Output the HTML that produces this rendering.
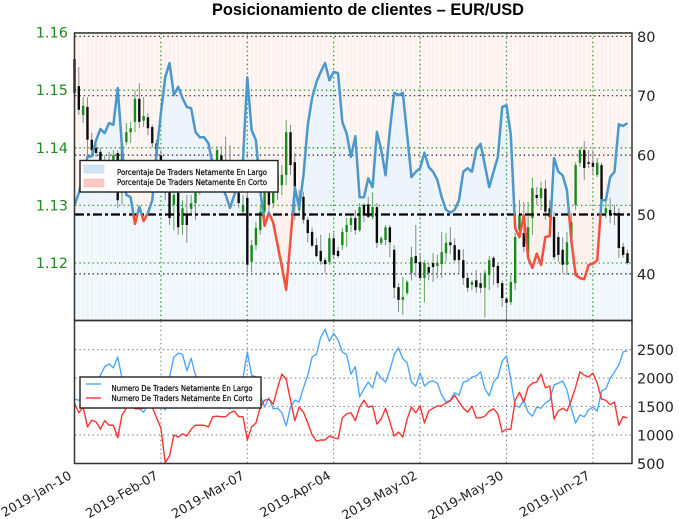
<!DOCTYPE html>
<html lang="es">
<head>
<meta charset="utf-8">
<title>Posicionamiento de clientes – EUR/USD</title>
<style>
html,body{margin:0;padding:0;background:#fff;width:679px;height:519px;overflow:hidden}
svg{display:block;filter:blur(0.35px)}
text{font-family:"DejaVu Sans","Liberation Sans",sans-serif}
</style>
</head>
<body>
<svg id="chart" xmlns="http://www.w3.org/2000/svg" width="679" height="519" viewBox="0 0 679 519">
  <text x="212" y="15" textLength="312" lengthAdjust="spacingAndGlyphs" style="font-family:'Liberation Sans',sans-serif;font-weight:bold;font-size:16.5px" fill="#000">Posicionamiento de clientes – EUR/USD</text>
  <defs>
    <clipPath id="clip-above"><rect x="75" y="33" width="557" height="181.5"/></clipPath>
    <clipPath id="clip-below"><rect x="75" y="214.5" width="557" height="106"/></clipPath>
  </defs>
  <g id="stripes"></g>
  <g id="sentiment-fill"></g>
  <g id="grid-top"></g>
  <g id="candles"></g>
  <g id="sentiment"></g>
  <g id="grid-bottom"></g>
  <g id="counts"></g>
  <g id="axes"></g>

  <g>
    <rect x="80" y="160.5" width="198" height="31.5" fill="#fff" stroke="#222" stroke-width="1.4"/>
    <rect x="84" y="165" width="20" height="8" fill="#cfe4f7" stroke="#b9d8f3" stroke-width=".6"/>
    <rect x="84" y="179" width="20" height="8" fill="#fcc9c4" stroke="#f9b9b3" stroke-width=".6"/>
    <text x="117" y="175" textLength="150" lengthAdjust="spacingAndGlyphs" font-size="7.5" stroke="#111" stroke-width=".25" fill="#111">Porcentaje De Traders Netamente En Largo</text>
    <text x="117" y="185" textLength="150" lengthAdjust="spacingAndGlyphs" font-size="7.5" stroke="#111" stroke-width=".25" fill="#111">Porcentaje De Traders Netamente En Corto</text>
  </g>
  <g>
    <rect x="80" y="377" width="181" height="31" fill="#fff" stroke="#222" stroke-width="1.4"/>
    <line x1="86" x2="101" y1="384" y2="384" stroke="#4da6ff" stroke-width="1.4"/>
    <line x1="86" x2="101" y1="398" y2="398" stroke="#ff3333" stroke-width="1.4"/>
    <text x="111.5" y="391" textLength="141" lengthAdjust="spacingAndGlyphs" font-size="7.5" stroke="#111" stroke-width=".25" fill="#111">Numero De Traders Netamente En Largo</text>
    <text x="111.5" y="401" textLength="141" lengthAdjust="spacingAndGlyphs" font-size="7.5" stroke="#111" stroke-width=".25" fill="#111">Numero De Traders Netamente En Corto</text>
  </g>
</svg>
<script>
const priceTicks = ["1.16","1.15","1.14","1.13","1.12"];
const percentTicks = ["80","70","60","40"];
const countTicks = ["2500","2000","1500","1000","500"];
const dateLabels = ["2019-Jan-10","2019-Feb-07","2019-Mar-07","2019-Apr-04","2019-May-02","2019-May-30","2019-Jun-27"];
const dateIndexes = [0,20,40,60,80,100,120];

const sentiment = [
51.6,53.6,56.6,59.7,59.8,62.5,64.4,63.7,65.4,65.1,
71.3,61.4,53.3,52.9,48.4,51.3,48.9,50.3,52.4,60.4,
67.1,73.1,75.5,70.1,71.5,69.6,68.1,67.9,63.9,63,
63,62,58.3,56.6,55,53.3,51.1,53.3,55.8,59.2,
73.1,64.2,62.5,54.1,48.1,50.3,48.6,44.9,41.2,37.3,
45.7,54.6,51.1,56.6,65.1,69.6,72.3,74,75.5,72.6,
74,73.8,65.6,63.6,59.7,63.2,52.9,52.9,56.1,54.6,
63.9,60.9,56.6,64.2,70.5,70.1,70.5,63.4,56.3,57.2,
57.8,60.4,58,57.2,55.8,52.9,50.8,50.3,50.8,52.4,
57.2,57.8,57.2,60.9,61.9,58.3,54.6,57.2,59.7,68.1,
68.4,63.4,47.7,46.2,49.9,42.7,41,43.4,41.5,46.2,
46.4,59.5,57.2,56.6,54.1,45.7,39.8,39.3,39.1,41.5,
41.7,42.3,52.4,52.4,56.3,57.2,65.2,64.9,65.4];

const longCount = [
1630,1610,1650,1760,1760,1830,2050,2200,2250,2180,
2370,2000,1790,1610,1460,1460,1400,1530,1610,1700,
1610,1440,2020,2370,2440,2420,2130,2350,2050,1970,
1880,1830,1740,1700,1610,1530,1460,1610,1880,2000,
2460,2050,2020,1700,1490,1650,1460,1470,1390,1160,
1490,1610,1580,1830,2050,2370,2420,2720,2860,2650,
2790,2670,2460,2410,2070,2200,1670,1810,1930,1830,
2110,2000,1930,2140,2410,2530,2340,2270,1930,1860,
2090,1860,1930,1950,1910,1700,1580,1610,1740,1700,
1930,1950,2020,2040,2110,1810,1690,1930,2020,2300,
2390,1970,1510,1490,1610,1400,1330,1490,1470,1560,
1610,1880,1910,1950,1790,1470,1210,1350,1320,1440,
1490,1420,1770,1810,2000,2110,2230,2460,2480];

const shortCount = [
1560,1390,1490,1140,1260,1230,1100,1250,1170,1170,
950,1350,1470,1610,1460,1460,1470,1560,1490,1300,
1120,510,630,1000,960,1020,980,1100,1170,1170,
1170,1140,1320,1330,1320,1320,1390,1420,1320,1320,
910,1140,1210,1490,1610,1630,1540,1830,2070,1980,
1610,1250,1490,1400,1210,1000,890,910,910,980,
950,930,1300,1370,1390,1250,1490,1610,1490,1510,
1190,1280,1470,1230,980,1050,960,1280,1490,1390,
1510,1210,1420,1470,1510,1510,1560,1600,1700,1580,
1470,1400,1510,1300,1300,1330,1420,1460,1370,1050,
1100,1100,1610,1750,1580,1840,1910,1930,2070,1830,
1860,1280,1420,1470,1420,1610,1840,2110,2050,2020,
2090,1910,1630,1610,1530,1580,1170,1320,1300];

const highs = [
1.1554,1.1540,1.1488,1.1488,1.1426,1.1408,1.1400,1.1387,1.1393,1.1396,
1.1396,1.1417,1.1443,1.1445,1.1500,1.1512,1.1488,1.1460,1.1440,1.1414,
1.1396,1.1370,1.1335,1.1327,1.1330,1.1309,1.1318,1.1318,1.1335,1.1358,
1.1370,1.1365,1.1382,1.1403,1.1403,1.1419,1.1405,1.1361,1.1330,1.1318,
1.1323,1.1240,1.1271,1.1301,1.1330,1.1341,1.1330,1.1365,1.1370,1.1448,
1.1440,1.1391,1.1327,1.1323,1.1280,1.1261,1.1243,1.1249,1.1209,1.1252,
1.1252,1.1228,1.1261,1.1278,1.1283,1.1292,1.1304,1.1304,1.1315,1.1323,
1.1304,1.1247,1.1266,1.1266,1.1231,1.1165,1.1176,1.1170,1.1228,1.1266,
1.1217,1.1205,1.1200,1.1217,1.1214,1.1254,1.1252,1.1262,1.1243,1.1224,
1.1224,1.1183,1.1170,1.1188,1.1183,1.1188,1.1212,1.1212,1.1200,1.1170,
1.1139,1.1179,1.1252,1.1309,1.1306,1.1306,1.1348,1.1332,1.1341,1.1344,
1.1309,1.1289,1.1254,1.1245,1.1254,1.1287,1.1375,1.1401,1.1412,1.1396,
1.1396,1.1382,1.1374,1.1313,1.1313,1.1301,1.1295,1.1235,1.1223];

const lows = [
1.1466,1.1457,1.1443,1.1384,1.1384,1.1384,1.1361,1.1344,1.1353,1.1344,
1.1295,1.1301,1.1405,1.1408,1.1427,1.1434,1.1436,1.1422,1.1400,1.1370,
1.1344,1.1309,1.1266,1.1257,1.1249,1.1249,1.1235,1.1283,1.1275,1.1318,
1.1330,1.1323,1.1344,1.1361,1.1358,1.1344,1.1335,1.1316,1.1295,1.1283,
1.1184,1.1184,1.1223,1.1249,1.1275,1.1283,1.1295,1.1309,1.1318,1.1335,
1.1353,1.1275,1.1287,1.1269,1.1236,1.1228,1.1210,1.1197,1.1183,1.1197,
1.1209,1.1209,1.1223,1.1228,1.1254,1.1249,1.1254,1.1271,1.1278,1.1275,
1.1226,1.1231,1.1231,1.1210,1.1139,1.1115,1.1110,1.1144,1.1170,1.1176,
1.1170,1.1132,1.1170,1.1167,1.1174,1.1174,1.1202,1.1216,1.1202,1.1183,
1.1162,1.1150,1.1153,1.1148,1.1148,1.1106,1.1153,1.1162,1.1157,1.1124,
1.1101,1.1127,1.1153,1.1249,1.1219,1.1205,1.1249,1.1301,1.1292,1.1275,
1.1266,1.1205,1.1202,1.1183,1.1179,1.1229,1.1292,1.1367,1.1344,1.1365,
1.1353,1.1349,1.1301,1.1278,1.1269,1.1266,1.1209,1.1209,1.1197];

const opens = [
1.1554,1.1507,1.1457,1.1471,1.1414,1.1400,1.1393,1.1361,1.1379,1.1361,
1.1391,1.1322,1.1410,1.1427,1.1445,1.1485,1.1447,1.1453,1.1436,1.1408,
1.1387,1.1361,1.1323,1.1301,1.1322,1.1266,1.1283,1.1294,1.1304,1.1327,
1.1358,1.1339,1.1370,1.1379,1.1387,1.1379,1.1370,1.1348,1.1322,1.1289,
1.1313,1.1202,1.1231,1.1257,1.1289,1.1323,1.1304,1.1322,1.1335,1.1353,
1.1427,1.1375,1.1292,1.1315,1.1275,1.1254,1.1231,1.1221,1.1205,1.1202,
1.1243,1.1221,1.1231,1.1254,1.1266,1.1278,1.1257,1.1301,1.1302,1.1280,
1.1297,1.1235,1.1240,1.1262,1.1223,1.1158,1.1136,1.1148,1.1183,1.1212,
1.1202,1.1174,1.1193,1.1200,1.1195,1.1198,1.1217,1.1236,1.1231,1.1223,
1.1205,1.1174,1.1162,1.1170,1.1165,1.1157,1.1179,1.1209,1.1195,1.1165,
1.1138,1.1132,1.1165,1.1257,1.1252,1.1217,1.1278,1.1318,1.1313,1.1329,
1.1295,1.1280,1.1245,1.1223,1.1197,1.1235,1.1301,1.1374,1.1396,1.1375,
1.1374,1.1353,1.1370,1.1287,1.1292,1.1287,1.1287,1.1228,1.1217];

const closes = [
1.1495,1.1466,1.1473,1.1414,1.1396,1.1391,1.1374,1.1374,1.1361,1.1387,
1.1309,1.1408,1.1427,1.1434,1.1485,1.1445,1.1455,1.1434,1.1408,1.1387,
1.1361,1.1322,1.1278,1.1318,1.1262,1.1295,1.1266,1.1304,1.1322,1.1348,
1.1344,1.1353,1.1358,1.1396,1.1370,1.1358,1.1348,1.1327,1.1304,1.1301,
1.1197,1.1231,1.1261,1.1289,1.1322,1.1301,1.1322,1.1356,1.1353,1.1427,
1.1370,1.1315,1.1313,1.1275,1.1252,1.1230,1.1212,1.1203,1.1198,1.1243,
1.1214,1.1212,1.1254,1.1266,1.1278,1.1257,1.1297,1.1283,1.1280,1.1297,
1.1235,1.1243,1.1262,1.1236,1.1157,1.1136,1.1141,1.1167,1.1210,1.1200,
1.1174,1.1200,1.1183,1.1193,1.1200,1.1219,1.1235,1.1231,1.1205,1.1205,
1.1174,1.1157,1.1167,1.1158,1.1157,1.1183,1.1205,1.1193,1.1165,1.1139,
1.1131,1.1167,1.1245,1.1283,1.1228,1.1262,1.1330,1.1313,1.1330,1.1289,
1.1280,1.1210,1.1214,1.1197,1.1236,1.1271,1.1370,1.1396,1.1365,1.1372,
1.1367,1.1374,1.1309,1.1295,1.1285,1.1283,1.1226,1.1214,1.1200];

const NS = 'http://www.w3.org/2000/svg';
const xAt = i => 74.5 + 4.32 * i;
const yPrice = p => 263 - (p - 1.12) * 5760;
const yPercent = v => 214.5 - (v - 50) * 5.94;
const yCount = c => 406.5 - (c - 1500) * 0.0568;

function make(parent, tag, attrs) {
  const el = document.createElementNS(NS, tag);
  for (const k in attrs) el.setAttribute(k, attrs[k]);
  parent.appendChild(el);
  return el;
}
const byId = id => document.getElementById(id);
const linePath = (vals, yFn) => vals.map((v, i) => (i ? 'L' : 'M') + xAt(i).toFixed(2) + ' ' + yFn(v).toFixed(2)).join('');

/* background stripes */
const stripes = byId('stripes');
const baseTop = make(stripes, 'rect', {x:75, y:33, width:557, height:181.5, fill:'#fff8f6'});


const baseBottom = make(stripes, 'rect', {x:75, y:214.5, width:557, height:106, fill:'#f6fafd'});


sentiment.forEach((v, i) => {
  const a = make(stripes, 'rect', {x:xAt(i) - 1.2, y:33, width:2.4, height:181.5, fill:'#fef0ed'});
  
  
  const b = make(stripes, 'rect', {x:xAt(i) - 1.2, y:214.5, width:2.4, height:106, fill:'#eef5fb'});
  
  
});

/* sentiment fill */
const sentFill = byId('sentiment-fill');
const linePathD = linePath(sentiment, yPercent);
const areaD = linePathD + 'L' + xAt(sentiment.length - 1) + ' ' + yPercent(50) + 'L' + xAt(0) + ' ' + yPercent(50) + 'Z';
const fillLong = make(sentFill, 'path', {d:areaD, fill:'#eaf3fb', 'fill-opacity':.85, 'clip-path':'url(#clip-above)'});


const fillShort = make(sentFill, 'path', {d:areaD, fill:'#fdeeeb', 'fill-opacity':.85, 'clip-path':'url(#clip-below)'});



/* top grid */
const gridTop = byId('grid-top');
priceTicks.forEach(t => {
  const l = make(gridTop, 'line', {x1:75, x2:632, y1:yPrice(+t), y2:yPrice(+t), stroke:'#2e9e2e', 'stroke-width':1.3, 'stroke-dasharray':'1.4 3'});
  
  
});
percentTicks.forEach(t => {
  const l = make(gridTop, 'line', {x1:75, x2:632, y1:yPercent(+t), y2:yPercent(+t), stroke:'#222', 'stroke-width':1.2, 'stroke-dasharray':'1.4 3'});
  
  
});
dateIndexes.slice(1).forEach(i => {
  const l = make(gridTop, 'line', {x1:xAt(i), x2:xAt(i), y1:33, y2:320, stroke:'#2e9e2e', 'stroke-width':1.3, 'stroke-dasharray':'1.4 3'});
  
  
});

/* candlesticks */
const candles = byId('candles');
opens.forEach((o, i) => {
  const c = closes[i];
  const up = c >= o;
  const wick = make(candles, 'line', {x1:xAt(i), x2:xAt(i), y1:yPrice(highs[i]), y2:yPrice(lows[i]), stroke:up ? '#5fa85f' : '#8a8a8a', 'stroke-width':1});
  
  
  const top = Math.min(yPrice(o), yPrice(c));
  const h = Math.max(Math.abs(yPrice(o) - yPrice(c)), 1);
  const body = make(candles, 'rect', {x:xAt(i) - 1.2, y:top, width:2.4, height:h, fill:up ? '#178a17' : '#0c0c0c'});
  
  
});

/* sentiment line */
const sent = byId('sentiment');
const midLine = make(sent, 'line', {x1:75, x2:632, y1:yPercent(50), y2:yPercent(50), stroke:'#000', 'stroke-width':2.2, 'stroke-dasharray':'9 3 3 3'});


const lineLong = make(sent, 'path', {d:linePathD, fill:'none', stroke:'#4a98cc', 'stroke-width':2.5, 'stroke-linejoin':'round', 'clip-path':'url(#clip-above)'});


const lineShort = make(sent, 'path', {d:linePathD, fill:'none', stroke:'#f4503c', 'stroke-width':2.5, 'stroke-linejoin':'round', 'clip-path':'url(#clip-below)'});



/* bottom grid */
const gridBottom = byId('grid-bottom');
countTicks.slice(0, 4).forEach(t => {
  const l = make(gridBottom, 'line', {x1:75, x2:632, y1:yCount(+t), y2:yCount(+t), stroke:'#808080', 'stroke-width':1.1, 'stroke-dasharray':'1.4 3'});
  
  
});
dateIndexes.slice(1).forEach(i => {
  const l = make(gridBottom, 'line', {x1:xAt(i), x2:xAt(i), y1:321, y2:463, stroke:'#808080', 'stroke-width':1.1, 'stroke-dasharray':'1.4 3'});
  
  
});

/* count lines */
const counts = byId('counts');
const cl = make(counts, 'path', {d:linePath(longCount, yCount), fill:'none', stroke:'#4da6ff', 'stroke-width':1.4, 'stroke-linejoin':'round'});


const cs = make(counts, 'path', {d:linePath(shortCount, yCount), fill:'none', stroke:'#ff3333', 'stroke-width':1.4, 'stroke-linejoin':'round'});



/* axes */
const axes = byId('axes');
const frameTop = make(axes, 'rect', {x:74.5, y:33, width:557.5, height:287.5, fill:'none', stroke:'#333', 'stroke-width':1.5});


const frameBottom = make(axes, 'rect', {x:74.5, y:320.5, width:557.5, height:143, fill:'none', stroke:'#333', 'stroke-width':1.5});



priceTicks.forEach(t => {
  const el = make(axes, 'text', {x:68, y:yPrice(+t) + 5, 'text-anchor':'end', 'font-size':14.5, fill:'#1f8a1f'});
  el.textContent = t;
  
  
});
percentTicks.concat(["50"]).forEach(t => {
  const el = make(axes, 'text', {x:637, y:yPercent(+t) + 5.5, 'font-size':14.5, fill:'#222'});
  el.textContent = t;
  
  
});
countTicks.forEach(t => {
  const el = make(axes, 'text', {x:637, y:yCount(+t) + 5.5, 'font-size':14.5, fill:'#222'});
  el.textContent = t;
  
  
});
dateLabels.forEach((t, k) => {
  const x = xAt(dateIndexes[k]) - 2;
  const el = make(axes, 'text', {x:x, y:478, 'text-anchor':'end', 'font-size':12.8, fill:'#222', transform:'rotate(-30 ' + x + ' 478)'});
  el.textContent = t;
  
  
});
</script>
</body>
</html>
